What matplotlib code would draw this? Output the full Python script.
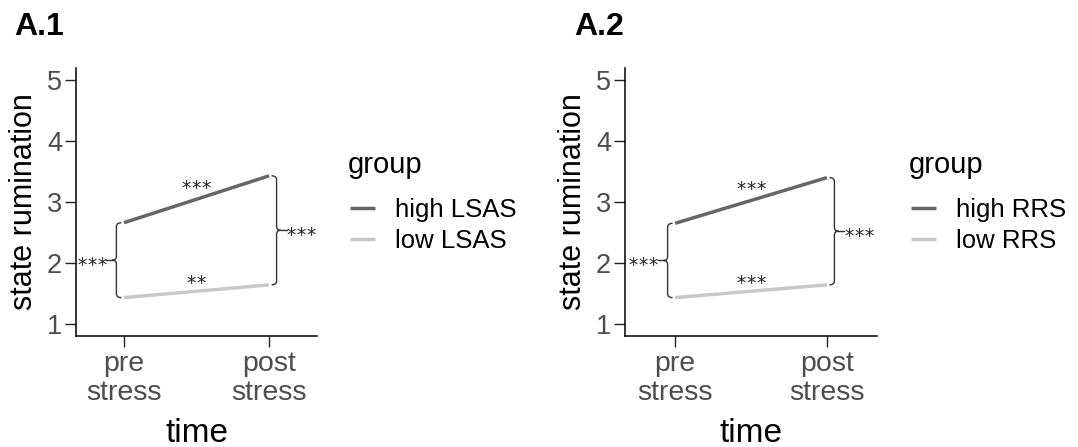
import matplotlib
matplotlib.use("Agg")
import matplotlib.pyplot as plt
from matplotlib.path import Path
from matplotlib.patches import PathPatch
from matplotlib.lines import Line2D
from matplotlib.transforms import IdentityTransform

plt.rcParams['font.family'] = ['Liberation Sans', 'DejaVu Sans']

# ---------------- data ----------------
time_labels = ["pre\nstress", "post\nstress"]
time_pos = [1, 2]
y_ticks = [1, 2, 3, 4, 5]

panel_titles = ["A.1", "A.2"]
groups_A1 = ["high LSAS", "low LSAS"]
high_A1 = [2.66, 3.43]
low_A1 = [1.43, 1.64]
groups_A2 = ["high RRS", "low RRS"]
high_A2 = [2.65, 3.40]
low_A2 = [1.43, 1.64]

# significance labels: [change high, change low, group diff pre, group diff post]
sig_A1 = ["***", "**", "***", "***"]
sig_A2 = ["***", "***", "***", "***"]

HIGH_C = "#666666"
LOW_C = "#c8c8c8"
TICK_C = "#4d4d4d"

W, H = 1078, 447
fig = plt.figure(figsize=(W / 100, H / 100), dpi=100)


def fx(px):
    return px / W


def fy(py):
    return (H - py) / H


def add_panel(left, right, title, title_x, groups, high, low, sig, leg_x):
    top, bottom = 68, 336
    ax = fig.add_axes([fx(left), fy(bottom), fx(right - left), (bottom - top) / H])
    ax.set_xlim(0.67, 2.33)
    ax.set_ylim(0.8, 5.2)
    ax.plot(time_pos, high, color=HIGH_C, lw=2.5, solid_capstyle='butt')
    ax.plot(time_pos, low, color=LOW_C, lw=2.5, solid_capstyle='butt')
    for s in ['top', 'right']:
        ax.spines[s].set_visible(False)
    for s in ['left', 'bottom']:
        ax.spines[s].set_linewidth(1.1)
        ax.spines[s].set_color('black')
    ax.set_xticks(time_pos)
    ax.set_xticklabels(time_labels, linespacing=1.12, fontsize=20.5)
    ax.set_yticks(y_ticks)
    ax.tick_params(axis='y', labelsize=19.5)
    ax.tick_params(axis='both', length=8, width=1.0, color='#222222',
                   labelcolor=TICK_C)
    ax.tick_params(axis='x', pad=3)
    ax.tick_params(axis='y', pad=2)

    fig.canvas.draw()
    T = ax.transData
    idt = IdentityTransform()

    def px(x, y):
        return T.transform((x, y))

    fs = 13.5
    fs_px = fs * 100 / 72
    afam = ['DejaVu Sans']
    step = 10.0

    def stars(xp, yc, lab, ha):
        """draw a label of asterisks with spacing like the reference"""
        n = len(lab)
        width = step * (n - 1)
        if ha == 'center':
            x0 = xp - width / 2
        elif ha == 'right':
            x0 = xp - width - 4.5
        else:
            x0 = xp + 4.5
        for k, ch in enumerate(lab):
            ax.text(x0 + k * step, yc - 0.56 * fs_px, ch, transform=idt,
                    ha='center', va='baseline', fontsize=fs, color='#222222',
                    family=afam, clip_on=False)

    # change asterisks above lines
    for vals, lab, off in [(high, sig[0], 16), (low, sig[1], 12.5)]:
        mx, my = px(1.5, (vals[0] + vals[1]) / 2)
        stars(mx, my + off, lab, 'center')

    # braces
    def brace(xd, ya, yb, side, lab):
        X, Ya = px(xd, ya)
        _, Yb = px(xd, yb)
        Yhi, Ylo = max(Ya, Yb), min(Ya, Yb)
        Ym = (Yhi + Ylo) / 2
        xb = X + side * 7.5
        h, r, c = 5, 4, 4
        verts = [(xb - side * h, Yhi), (xb, Yhi), (xb, Yhi - r),
                 (xb, Ym + r), (xb, Ym), (xb + side * c, Ym),
                 (xb, Ym), (xb, Ym - r),
                 (xb, Ylo + r), (xb, Ylo), (xb - side * h, Ylo)]
        codes = [Path.MOVETO, Path.CURVE3, Path.CURVE3,
                 Path.LINETO, Path.CURVE3, Path.CURVE3,
                 Path.CURVE3, Path.CURVE3,
                 Path.LINETO, Path.CURVE3, Path.CURVE3]
        p = PathPatch(Path(verts, codes), transform=idt, fill=False,
                      edgecolor='#333333', lw=1.0, clip_on=False)
        ax.add_artist(p)
        x2 = xb + side * (c + 6)
        ax.add_artist(Line2D([xb + side * c, x2], [Ym, Ym], transform=idt,
                             color='#333333', lw=1.0, clip_on=False))
        stars(x2, Ym, lab, 'right' if side < 0 else 'left')

    brace(time_pos[0], high[0], low[0], -1, sig[2])
    brace(time_pos[1], high[1], low[1], +1, sig[3])

    # axis titles
    fig.text(fx((left + right) / 2), fy(442), "time", ha='center', va='baseline',
             fontsize=24, color='black')
    fig.text(fx(left - 52), fy((top + bottom) / 2), "state rumination", rotation=90,
             ha='center', va='center', fontsize=22, color='black')

    # panel title
    fig.text(fx(title_x), fy(35), title, ha='left', va='baseline',
             fontsize=23, fontweight='bold', color='black')

    # legend
    fig.text(fx(leg_x), fy(173), "group", ha='left', va='baseline',
             fontsize=21, color='black')
    for i, (g, col) in enumerate(zip(groups, [HIGH_C, LOW_C])):
        ly = 208 + 31 * i
        fig.add_artist(Line2D([fx(leg_x + 2), fx(leg_x + 27)], [fy(ly), fy(ly)],
                              transform=fig.transFigure, color=col, lw=2.5,
                              solid_capstyle='butt'))
        fig.text(fx(leg_x + 47), fy(ly + 9), g, ha='left', va='baseline',
                 fontsize=18.5, color='black')
    return ax


add_panel(76, 317, panel_titles[0], 14, groups_A1, high_A1, low_A1, sig_A1, 348)
add_panel(625, 877, panel_titles[1], 574, groups_A2, high_A2, low_A2, sig_A2, 909)

fig.savefig("out.png", dpi=100, facecolor='white')
